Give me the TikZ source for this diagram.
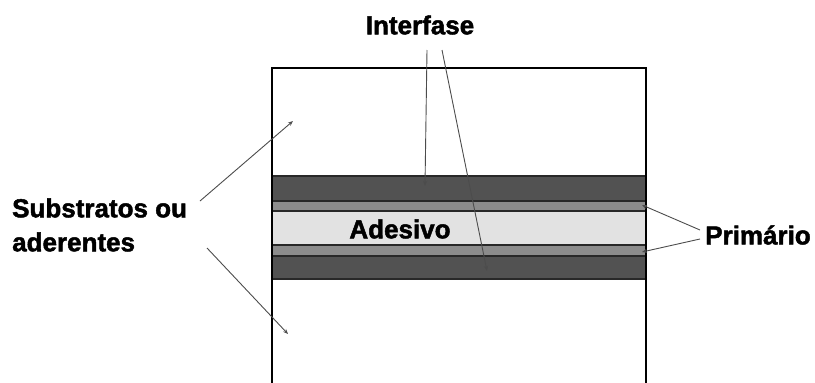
\documentclass[tikz,border=0pt]{standalone}
\usepackage{fontspec}
\setmainfont{Liberation Sans}[BoldFeatures={FakeBold=1.8}]
\usetikzlibrary{arrows.meta}

\definecolor{dark}{RGB}{82,82,82}
\definecolor{mid}{RGB}{140,140,140}
\definecolor{light}{RGB}{226,226,226}
\definecolor{edge}{RGB}{40,40,40}

\begin{document}
\begin{tikzpicture}[x=1pt,y=-1pt]
        \tikzset{lbl/.style={font=\fontsize{26}{34}\selectfont\bfseries, inner sep=0pt},
          ptr/.style={draw=black!70, line width=0.9pt, -{Stealth[length=5pt,width=4pt]}},
          layer/.style={draw=edge, line width=1.4pt}}
        \useasboundingbox (0,0) rectangle (815,383);
        % layers
        \draw [layer, fill=dark] (272,176) rectangle (646,201);
        \draw [layer, fill=mid] (272,201) rectangle (646,211);
        \draw [layer, fill=light] (272,211) rectangle (646,245);
        \draw [layer, fill=mid] (272,245) rectangle (646,256);
        \draw [layer, fill=dark] (272,256) rectangle (646,279);
        % outer box
        \draw [black, line width=2pt] (272,395) -- (272,68) -- (646,68) -- (646,395);
        % labels
        \node [lbl] (inter) at (420,25) {Interfase};
        \node [lbl] (ades) at (400,229) {Adesivo};
        \node [lbl] (prim) at (758,235) {Primário};
        \node [lbl, align=left, anchor=west] (subs) at (12,225) {Substratos ou\\aderentes};
        % pointer starts and ends
        \coordinate (inter1) at (427,50);
        \coordinate (inter2) at (442,50);
        \coordinate (prim1) at (700,230);
        \coordinate (prim2) at (700,239);
        \coordinate (subs1) at (200,201);
        \coordinate (subs2) at (207,248);
        \coordinate (i1) at (425,186);
        \coordinate (i2) at (487,271);
        \coordinate (p1) at (642,205);
        \coordinate (p2) at (642,252);
        \coordinate (s1) at (293,121);
        \coordinate (s2) at (288,334);
        \draw [ptr] (inter1) -- (i1);
        \draw [ptr] (inter2) -- (i2);
        \draw [ptr] (prim1) -- (p1);
        \draw [ptr] (prim2) -- (p2);
        \draw [ptr] (subs1) -- (s1);
        \draw [ptr] (subs2) -- (s2);
\end{tikzpicture}
\end{document}
